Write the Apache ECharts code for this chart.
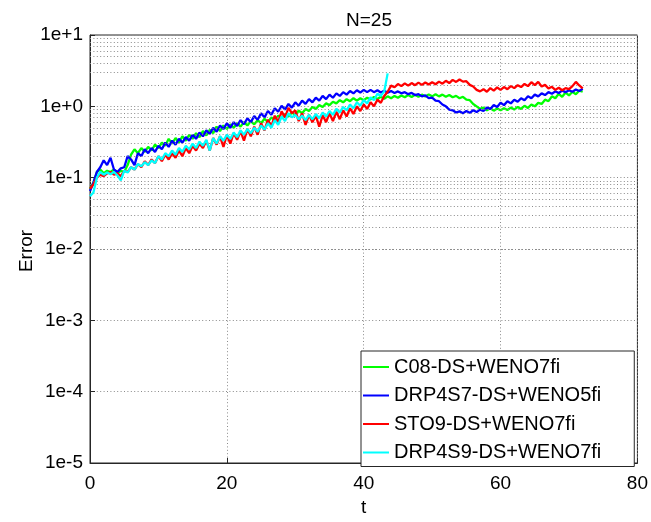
<!DOCTYPE html>
<html>
<head>
<meta charset="utf-8">
<script src="https://cdn.jsdelivr.net/npm/echarts@6/dist/echarts.min.js"></script>
<style>
  html, body { margin: 0; padding: 0; background: #fff; }
  #chart { width: 651px; height: 522px; }
</style>
</head>
<body>
<div id="chart"></div>
<script>
// Sampling step of the error histories (time units)
const DT = 0.5;

const seriesNames = ['C08-DS+WENO7fi', 'DRP4S7-DS+WENO5fi', 'STO9-DS+WENO7fi', 'DRP4S9-DS+WENO7fi'];
const seriesColors = ['#00ff00', '#0000ff', '#ff0000', '#00ffff'];

// C08-DS+WENO7fi, t = 0 .. 72
const errC08 = [
  0.070, 0.085, 0.120, 0.130, 0.115, 0.125, 0.120, 0.130, 0.115, 0.125,
  0.120, 0.150, 0.210, 0.250, 0.220, 0.260, 0.230, 0.270, 0.240, 0.290,
  0.26, 0.31, 0.28, 0.35, 0.30, 0.36, 0.31, 0.38, 0.33, 0.40,
  0.35, 0.42, 0.37, 0.45, 0.39, 0.47, 0.42, 0.52, 0.45, 0.54,
  0.48, 0.56, 0.50, 0.58, 0.52, 0.60, 0.54, 0.62, 0.56, 0.64,
  0.58, 0.67, 0.60, 0.70, 0.64, 0.74, 0.68, 0.78, 0.72, 0.82,
  0.76, 0.87, 0.80, 0.92, 0.86, 0.98, 0.92, 1.04, 0.98, 1.10,
  1.04, 1.16, 1.10, 1.22, 1.14, 1.26, 1.18, 1.30, 1.20, 1.30,
  1.22, 1.32, 1.25, 1.35, 1.27, 1.36, 1.28, 1.38, 1.30, 1.40,
  1.32, 1.42, 1.34, 1.44, 1.35, 1.45, 1.36, 1.46, 1.37, 1.47,
  1.38, 1.48, 1.38, 1.46, 1.36, 1.44, 1.34, 1.40, 1.30, 1.36,
  1.24, 1.22, 1.08, 1.00, 0.92, 0.96, 0.88, 0.94, 0.87, 0.93,
  0.88, 0.94, 0.89, 0.96, 0.90, 0.98, 0.92, 1.02, 0.95, 1.06,
  1.00, 1.12, 1.08, 1.24, 1.18, 1.38, 1.30, 1.50, 1.36, 1.56,
  1.42, 1.60, 1.48, 1.66, 1.60
];

// DRP4S7-DS+WENO5fi, t = 0 .. 72
const errDRP4S7 = [
  0.065, 0.085, 0.120, 0.140, 0.175, 0.150, 0.190, 0.130, 0.120, 0.135,
  0.140, 0.200, 0.180, 0.150, 0.220, 0.200, 0.250, 0.220, 0.260, 0.230,
  0.28, 0.25, 0.31, 0.27, 0.33, 0.29, 0.35, 0.31, 0.37, 0.33,
  0.40, 0.35, 0.43, 0.38, 0.46, 0.41, 0.50, 0.44, 0.54, 0.48,
  0.58, 0.50, 0.60, 0.53, 0.64, 0.56, 0.68, 0.60, 0.73, 0.65,
  0.80, 0.70, 0.86, 0.76, 0.94, 0.84, 1.02, 0.90, 1.08, 0.96,
  1.14, 1.02, 1.20, 1.08, 1.26, 1.14, 1.32, 1.20, 1.40, 1.26,
  1.46, 1.32, 1.52, 1.40, 1.58, 1.46, 1.64, 1.52, 1.68, 1.56,
  1.70, 1.58, 1.70, 1.58, 1.68, 1.56, 1.66, 1.55, 1.64, 1.54,
  1.62, 1.52, 1.58, 1.48, 1.54, 1.44, 1.48, 1.38, 1.42, 1.30,
  1.32, 1.20, 1.18, 1.06, 1.00, 0.90, 0.88, 0.82, 0.85, 0.80,
  0.86, 0.81, 0.88, 0.83, 0.90, 0.86, 0.96, 0.92, 1.04, 0.98,
  1.12, 1.04, 1.18, 1.10, 1.24, 1.16, 1.30, 1.22, 1.38, 1.30,
  1.46, 1.38, 1.52, 1.44, 1.58, 1.50, 1.62, 1.54, 1.66, 1.58,
  1.68, 1.60, 1.72, 1.64, 1.76
];

// STO9-DS+WENO7fi, t = 0 .. 72
const errSTO9 = [
  0.070, 0.080, 0.100, 0.110, 0.105, 0.115, 0.120, 0.110, 0.115, 0.105,
  0.125, 0.120, 0.140, 0.130, 0.155, 0.140, 0.170, 0.150, 0.180, 0.160,
  0.20, 0.17, 0.21, 0.18, 0.22, 0.19, 0.24, 0.20, 0.26, 0.22,
  0.28, 0.24, 0.30, 0.26, 0.33, 0.24, 0.36, 0.29, 0.38, 0.27,
  0.40, 0.30, 0.42, 0.34, 0.45, 0.33, 0.48, 0.38, 0.52, 0.40,
  0.58, 0.46, 0.65, 0.52, 0.74, 0.60, 0.85, 0.70, 0.95, 0.80,
  0.88, 0.62, 0.80, 0.55, 0.76, 0.60, 0.74, 0.52, 0.75, 0.60,
  0.80, 0.62, 0.84, 0.66, 0.88, 0.72, 0.94, 0.78, 1.00, 0.86,
  1.06, 0.92, 1.14, 1.00, 1.24, 1.12, 1.40, 1.60, 1.95, 1.85,
  2.05, 1.92, 2.10, 1.95, 2.12, 1.98, 2.15, 2.00, 2.16, 2.02,
  2.18, 2.04, 2.22, 2.08, 2.28, 2.12, 2.35, 2.20, 2.38, 2.22,
  2.25, 2.00, 1.90, 1.70, 1.62, 1.74, 1.60, 1.80, 1.66, 1.84,
  1.70, 1.86, 1.74, 1.92, 1.80, 1.98, 1.86, 2.06, 1.92, 2.18,
  1.98, 2.20, 1.90, 2.00, 1.78, 1.88, 1.70, 1.82, 1.68, 1.80,
  1.74, 1.92, 2.20, 1.96, 1.78
];

// DRP4S9-DS+WENO7fi, t = 0 .. 43.5
const errDRP4S9 = [
  0.055, 0.062, 0.100, 0.120, 0.110, 0.118, 0.112, 0.120, 0.108, 0.092,
  0.125, 0.118, 0.140, 0.130, 0.155, 0.145, 0.165, 0.150, 0.175, 0.160,
  0.20, 0.18, 0.22, 0.20, 0.24, 0.21, 0.26, 0.23, 0.28, 0.25,
  0.30, 0.26, 0.32, 0.28, 0.34, 0.24, 0.36, 0.30, 0.38, 0.33,
  0.40, 0.35, 0.43, 0.37, 0.46, 0.40, 0.48, 0.42, 0.50, 0.44,
  0.54, 0.47, 0.58, 0.50, 0.64, 0.55, 0.72, 0.62, 0.80, 0.70,
  0.76, 0.66, 0.74, 0.64, 0.76, 0.66, 0.78, 0.68, 0.82, 0.72,
  0.86, 0.76, 0.92, 0.82, 0.98, 0.88, 1.06, 0.94, 1.14, 1.02,
  1.22, 1.10, 1.34, 1.22, 1.50, 1.40, 1.62, 2.90
];

const seriesValues = [errC08, errDRP4S7, errSTO9, errDRP4S9];

// Axis ticks and labels
const xTicks = [0, 20, 40, 60, 80];
const yTickLabels = ['1e-5', '1e-4', '1e-3', '1e-2', '1e-1', '1e+0', '1e+1'];
const yMinExp = -5;
const yMaxExp = 1;
const yAxisTitle = 'Error';

const FONT = '"Liberation Sans", Arial, Helvetica, sans-serif';
const FS = 19;

// Intermediate (2..9 x 10^k) grid lines of the log axis
const minorLevels = [];
for (let k = yMinExp; k < yMaxExp; k++) {
  for (let m = 2; m <= 9; m++) minorLevels.push({ yAxis: m * Math.pow(10, k) });
}

const gridDots = { color: '#8a8a8a', width: 1, type: [1, 2.4] };

const dataSeries = seriesValues.map((vals, s) => ({
  name: seriesNames[s],
  type: 'line',
  data: vals.map((v, i) => [i * DT, v]),
  showSymbol: false,
  symbol: 'none',
  z: 3 + s,
  lineStyle: { color: seriesColors[s], width: 2.3 },
  itemStyle: { color: seriesColors[s] },
  animation: false
}));

const chart = echarts.init(document.getElementById('chart'), null, { renderer: 'canvas' });
chart.setOption({
  animation: false,
  backgroundColor: '#ffffff',
  title: {
    text: 'N=25',
    left: 364,
    top: 6,
    textAlign: 'center',
    textStyle: { fontFamily: FONT, fontSize: FS, fontWeight: 'normal', color: '#000' }
  },
  // Vertical axis title, rotated beside the tick labels
  graphic: [{
    type: 'text',
    x: 27,
    y: 251,
    rotation: Math.PI / 2,
    silent: true,
    style: {
      text: yAxisTitle,
      fontFamily: FONT,
      fontSize: FS,
      fill: '#000',
      align: 'center',
      verticalAlign: 'middle'
    }
  }],
  grid: {
    left: 90, right: 13, top: 35, bottom: 55,
    show: true, borderColor: '#262626', borderWidth: 1, backgroundColor: 'transparent'
  },
  legend: {
    orient: 'vertical',
    left: 361,
    top: 351,
    data: seriesNames,
    icon: 'rect',
    itemWidth: 26,
    itemHeight: 2,
    itemGap: 8.5,
    padding: [6, 33, 4, 2],
    backgroundColor: '#ffffff',
    borderColor: '#262626',
    borderWidth: 1,
    borderRadius: 0,
    textStyle: { fontFamily: FONT, fontSize: 20, color: '#000', padding: [0, 0, 0, 0] },
    z: 20
  },
  xAxis: {
    type: 'value',
    min: xTicks[0],
    max: xTicks[xTicks.length - 1],
    interval: 20,
    name: 't',
    nameLocation: 'middle',
    nameGap: 35,
    nameTextStyle: { fontFamily: FONT, fontSize: FS, color: '#000' },
    axisLine: { show: true, lineStyle: { color: '#262626', width: 1 } },
    axisTick: { show: true, inside: true, length: 5, lineStyle: { color: '#262626' } },
    axisLabel: { fontFamily: FONT, fontSize: FS, color: '#000', margin: 11 },
    splitLine: { show: true, lineStyle: gridDots }
  },
  yAxis: {
    type: 'log',
    logBase: 10,
    min: Math.pow(10, yMinExp),
    max: Math.pow(10, yMaxExp),
    interval: 1,
    axisLine: { show: true, lineStyle: { color: '#262626', width: 1 } },
    axisTick: { show: true, inside: true, length: 5, lineStyle: { color: '#262626' } },
    axisLabel: {
      fontFamily: FONT, fontSize: FS, color: '#000', margin: 7,
      formatter: function (v) {
        const e = Math.round(Math.log10(v));
        return yTickLabels[e - yMinExp];
      }
    },
    splitLine: { show: true, lineStyle: gridDots }
  },
  series: [
    {
      name: 'minor-grid',
      type: 'line',
      data: [],
      z: 1,
      silent: true,
      markLine: {
        silent: true,
        symbol: ['none', 'none'],
        label: { show: false },
        lineStyle: gridDots,
        emphasis: { disabled: true },
        animation: false,
        data: minorLevels
      }
    }
  ].concat(dataSeries)
});
</script>
</body>
</html>
